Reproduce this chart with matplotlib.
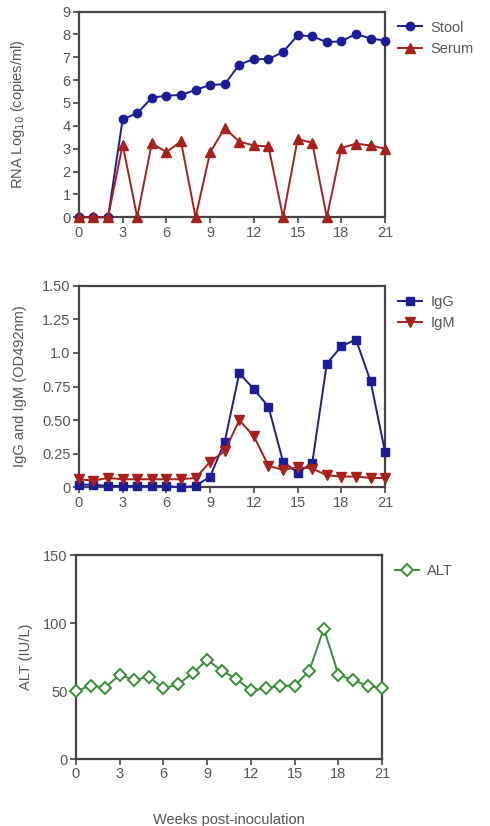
import matplotlib
matplotlib.use("Agg")
import matplotlib.pyplot as plt

plt.rcParams['font.family'] = ['Liberation Sans', 'DejaVu Sans']

weeks = list(range(22))

stool = [0, 0, 0, 4.29, 4.55, 5.23, 5.32, 5.35, 5.57, 5.79, 5.82, 6.68, 6.92, 6.92,
         7.23, 7.96, 7.92, 7.66, 7.7, 8.02, 7.82, 7.73]
serum = [0, 0, 0, 3.18, 0, 3.24, 2.85, 3.32, 0, 2.84, 3.9, 3.31, 3.14, 3.1,
         0, 3.42, 3.26, 0, 3.03, 3.22, 3.14, 3.0]

igg = [0.02, 0.02, 0.01, 0.01, 0.01, 0.01, 0.01, 0.0, 0.01, 0.08, 0.34, 0.85,
       0.73, 0.6, 0.19, 0.11, 0.18, 0.92, 1.05, 1.1, 0.79, 0.26]
igm = [0.06, 0.05, 0.07, 0.06, 0.06, 0.06, 0.06, 0.06, 0.07, 0.19, 0.27, 0.5,
       0.38, 0.16, 0.13, 0.15, 0.14, 0.09, 0.08, 0.08, 0.07, 0.07]

alt = [50, 54, 52.5, 62, 58, 60.5, 52, 55, 63, 73, 65, 59, 50.5, 52, 54, 54,
       65, 96, 62, 58, 54, 52]

blue = '#1c1c96'
red = '#a8201e'
green = '#3c8a3c'
spine_c = '#444444'
tick_c = '#555555'

fig = plt.figure(figsize=(4.9, 8.26), dpi=100)
ax1 = fig.add_axes([0.161, 0.737, 0.625, 0.249])
ax2 = fig.add_axes([0.161, 0.410, 0.625, 0.244])
ax3 = fig.add_axes([0.155, 0.081, 0.625, 0.247])


def style(ax):
    for s in ax.spines.values():
        s.set_color(spine_c)
        s.set_linewidth(1.6)
    ax.tick_params(direction='out', length=4, width=1.2, color=spine_c,
                   labelcolor=tick_c, labelsize=10.5, pad=2)
    ax.set_xlim(0, 21)
    ax.set_xticks(range(0, 22, 3))


def add_legend(ax):
    ax.legend(loc='upper left', bbox_to_anchor=(1.0, 1.02), frameon=False, fontsize=10.5,
              handlelength=1.6, handletextpad=0.6, labelcolor=tick_c)


ax1.plot(weeks, stool, '-o', color=blue, lw=1.4, ms=6, label='Stool', clip_on=False, zorder=3)
ax1.plot(weeks, serum, '-^', color=red, lw=1.4, ms=6.5, label='Serum', clip_on=False, zorder=3)
style(ax1)
ax1.set_ylim(0, 9)
ax1.set_yticks(range(0, 10))
ax1.set_ylabel('RNA Log$_{10}$ (copies/ml)', color=tick_c, fontsize=10.5)
ax1.yaxis.set_label_coords(-0.17, 0.5)
add_legend(ax1)

ax2.plot(weeks, igg, '-s', color=blue, lw=1.4, ms=5.5, label='IgG', clip_on=False, zorder=3)
ax2.plot(weeks, igm, '-v', color=red, lw=1.4, ms=6.5, label='IgM', clip_on=False, zorder=3)
style(ax2)
ax2.set_ylim(0, 1.5)
ax2.set_yticks([0, 0.25, 0.5, 0.75, 1.0, 1.25, 1.5])
ax2.set_yticklabels(['0', '0.25', '0.50', '0.75', '1.0', '1.25', '1.50'])
ax2.set_ylabel('IgG and IgM (OD492nm)', color=tick_c, fontsize=10.5)
ax2.yaxis.set_label_coords(-0.17, 0.5)
add_legend(ax2)

ax3.plot(weeks, alt, '-D', color=green, lw=1.4, ms=6, mfc='white', mew=1.4,
         label='ALT', clip_on=False, zorder=3)
style(ax3)
ax3.set_ylim(0, 150)
ax3.set_yticks([0, 50, 100, 150])
ax3.set_ylabel('ALT (IU/L)', color=tick_c, fontsize=10.5)
ax3.yaxis.set_label_coords(-0.14, 0.5)
ax3.set_xlabel('Weeks post-inoculation', color=tick_c, fontsize=10.5, labelpad=23)
add_legend(ax3)

fig.savefig('out.png', dpi=100)
